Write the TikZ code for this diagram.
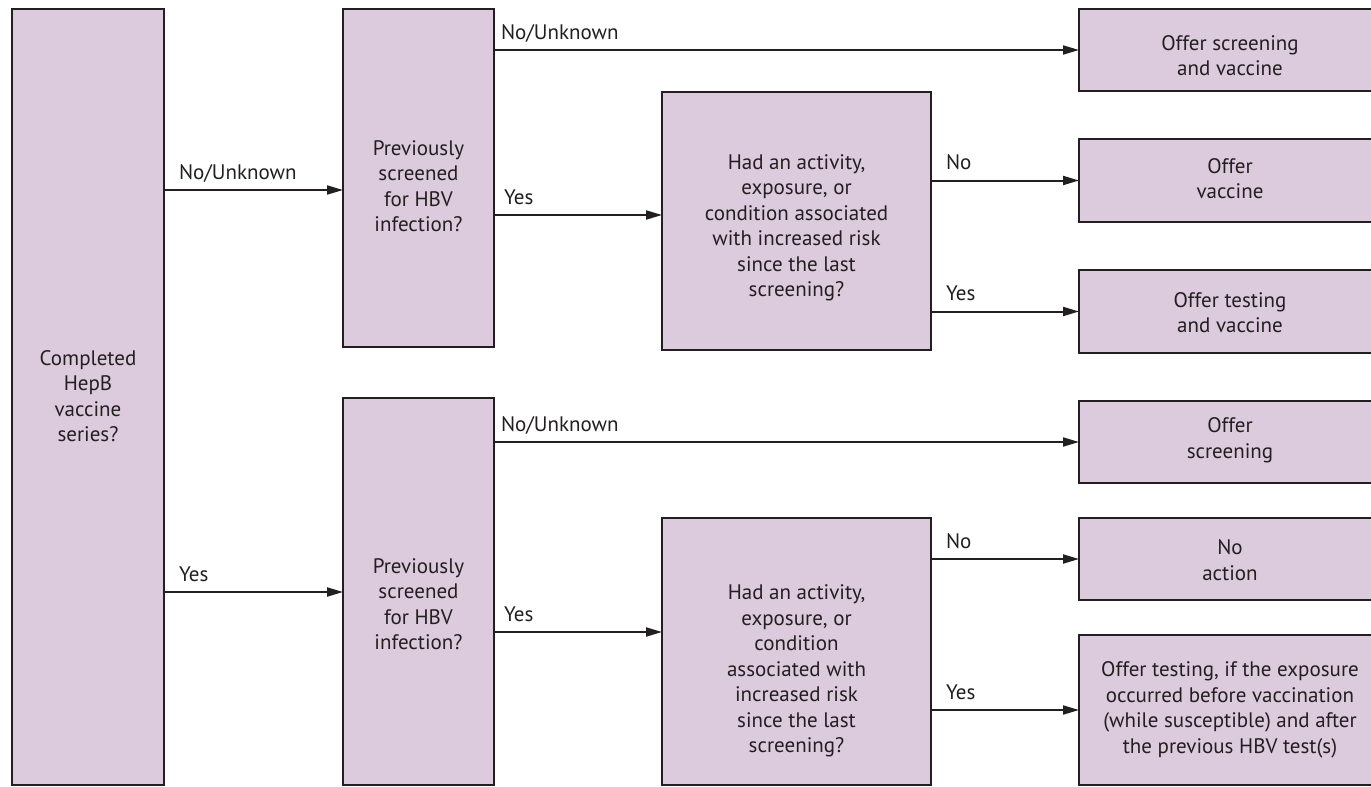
\documentclass[tikz,border=0pt]{standalone}
\usepackage{fontspec}
\setmainfont{PT Sans}
\usetikzlibrary{arrows.meta}
\definecolor{boxfill}{RGB}{220,202,221}
\definecolor{ink}{RGB}{35,31,32}
\begin{document}
\begin{tikzpicture}[x=1pt,y=-1pt,
  box/.style={draw=ink,line width=2pt,fill=boxfill,rectangle,inner sep=0pt,outer sep=0pt},
  txt/.style={align=center,text=ink,font=\fontsize{21}{25.5}\selectfont,inner sep=0pt},
  lbl/.style={anchor=base west,text=ink,font=\fontsize{21}{25}\selectfont,inner sep=0pt},
  arr/.style={draw=ink,line width=2pt,-{Triangle[length=16pt,width=9pt]}}]
\useasboundingbox (0,0) rectangle (1371,787);
\fill[white] (0,0) rectangle (1371,787);
\clip (0,0) rectangle (1371,787);
% boxes
\node[box,minimum width=152,minimum height=776] (A) at (88,397) {};
\node[box,minimum width=151,minimum height=338] (P1) at (418.5,178) {};
\node[box,minimum width=151,minimum height=387] (P2) at (418.5,591.5) {};
\node[box,minimum width=269,minimum height=258] (H1) at (796.5,221) {};
\node[box,minimum width=269,minimum height=267] (H2) at (796.5,651.5) {};
\node[box,minimum width=302,minimum height=82] (R1) at (1230,50) {};
\node[box,minimum width=302,minimum height=83] (R2) at (1230,180.5) {};
\node[box,minimum width=302,minimum height=83] (R3) at (1230,311.5) {};
\node[box,minimum width=302,minimum height=82] (R4) at (1230,442) {};
\node[box,minimum width=302,minimum height=82] (R5) at (1230,559) {};
\node[box,minimum width=302,minimum height=150] (R6) at (1230,710) {};
% texts
\node[txt] (tA) at (88,396) {Completed\\HepB\\vaccine\\series?};
\node[txt] (tP1) at (418.5,186) {Previously\\screened\\for HBV\\infection?};
\node[txt] (tP2) at (418.5,604) {Previously\\screened\\for HBV\\infection?};
\node[txt] (tH1) at (796.5,228) {Had an activity,\\exposure, or\\condition associated\\with increased risk\\since the last\\screening?};
\node[txt] (tH2) at (796.5,671) {Had an activity,\\exposure, or\\condition\\associated with\\increased risk\\since the last\\screening?};
\node[txt] (tR1) at (1230,55.5) {Offer screening\\and vaccine};
\node[txt] (tR2) at (1230,178.5) {Offer\\vaccine};
\node[txt] (tR3) at (1230,312.5) {Offer testing\\and vaccine};
\node[txt] (tR4) at (1230,440) {Offer\\screening};
\node[txt] (tR5) at (1230,560) {No\\action};
\node[txt] (tR6) at (1230,710) {Offer testing, if the exposure\\occurred before vaccination\\(while susceptible) and after\\the previous HBV test(s)};
% connector heights
\coordinate (y1) at (0,190);
\coordinate (y2) at (0,592);
\coordinate (y3) at (0,215);
\coordinate (y4) at (0,632);
% connectors
\draw[arr] (A.east |- y1) -- (P1.west |- y1) node[lbl,pos=0,xshift=14pt,yshift=11pt] (l1) {No/Unknown};
\draw[arr] (A.east |- y2) -- (P2.west |- y2) node[lbl,pos=0,xshift=14pt,yshift=11pt] (l2) {Yes};
\draw[arr] (P1.east |- R1.west) -- (R1.west) node[lbl,pos=0,xshift=6pt,yshift=11pt] (l3) {No/Unknown};
\draw[arr] (P1.east |- y3) -- (H1.west |- y3) node[lbl,pos=0,xshift=9pt,yshift=11pt] (l4) {Yes};
\draw[arr] (H1.east |- R2.west) -- (R2.west) node[lbl,pos=0,xshift=14pt,yshift=11pt] (l5) {No};
\draw[arr] (H1.east |- R3.west) -- (R3.west) node[lbl,pos=0,xshift=14pt,yshift=11pt] (l6) {Yes};
\draw[arr] (P2.east |- R4.west) -- (R4.west) node[lbl,pos=0,xshift=6pt,yshift=11pt] (l7) {No/Unknown};
\draw[arr] (P2.east |- y4) -- (H2.west |- y4) node[lbl,pos=0,xshift=9pt,yshift=11pt] (l8) {Yes};
\draw[arr] (H2.east |- R5.west) -- (R5.west) node[lbl,pos=0,xshift=14pt,yshift=11pt] (l9) {No};
\draw[arr] (H2.east |- R6.west) -- (R6.west) node[lbl,pos=0,xshift=14pt,yshift=11pt] (l10) {Yes};
\end{tikzpicture}
\end{document}
